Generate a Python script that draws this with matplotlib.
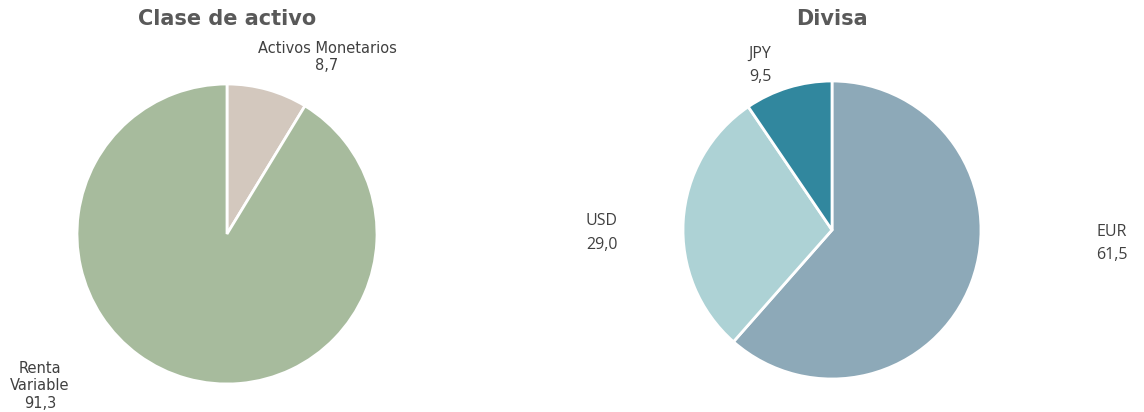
import matplotlib.pyplot as plt

# Datos
clase_labels = ['Activos Monetarios', 'Renta\nVariable']
clase_vals = [8.7, 91.3]
clase_colors = ['#D3C8BE', '#A7BB9D']

divisa_labels = ['EUR', 'USD', 'JPY']
divisa_vals = [61.5, 29.0, 9.5]
divisa_colors = ['#8DA9B8', '#ADD2D5', '#31879E']

W, H = 1144, 412
fig = plt.figure(figsize=(W / 100, H / 100), dpi=100)


def eixos(cx, cy, r):
    # eixos en píxels: centre (cx, cy) des de dalt, radi r
    return fig.add_axes([(cx - r) / W, (H - cy - r) / H, 2 * r / W, 2 * r / H])


def fmt(v):
    return f'{v:.1f}'.replace('.', ',')


# Clase de activo
ax1 = eixos(227, 234, 150)
ax1.pie(clase_vals, colors=clase_colors, startangle=90, counterclock=False,
        radius=1, wedgeprops=dict(edgecolor='white', linewidth=2))
ax1.set_xlim(-1, 1)
ax1.set_ylim(-1, 1)
ax1.set_aspect('auto')
ax1.axis('off')
pos1 = [(0.667, 1.18), (-1.247, -1.013)]
for lab, v, (x, y) in zip(clase_labels, clase_vals, pos1):
    ax1.text(x, y, f'{lab}\n{fmt(v)}', ha='center', va='center', fontsize=10.5,
             color='#404040', family='DejaVu Sans', linespacing=1.2, clip_on=False)
fig.text(227 / W, 1 - 19 / H, 'Clase de activo', ha='center', va='center',
         fontsize=15, fontweight='bold', color='#595959', family='DejaVu Sans')

# Divisa
ax2 = eixos(832, 230, 149)
ax2.pie(divisa_vals, colors=divisa_colors, startangle=90, counterclock=False,
        radius=1, wedgeprops=dict(edgecolor='white', linewidth=2))
ax2.set_xlim(-1, 1)
ax2.set_ylim(-1, 1)
ax2.set_aspect('auto')
ax2.axis('off')
pos2 = [(1.879, -0.09), (-1.544, -0.02), (-0.483, 1.105)]
for lab, v, (x, y) in zip(divisa_labels, divisa_vals, pos2):
    ax2.text(x, y, f'{lab}\n{fmt(v)}', ha='center', va='center', fontsize=11.5,
             color='#404040', family='Open Sans', linespacing=1.6, clip_on=False)
fig.text(832 / W, 1 - 19 / H, 'Divisa', ha='center', va='center',
         fontsize=15, fontweight='bold', color='#595959', family='DejaVu Sans')

fig.savefig('out.png', dpi=100)
